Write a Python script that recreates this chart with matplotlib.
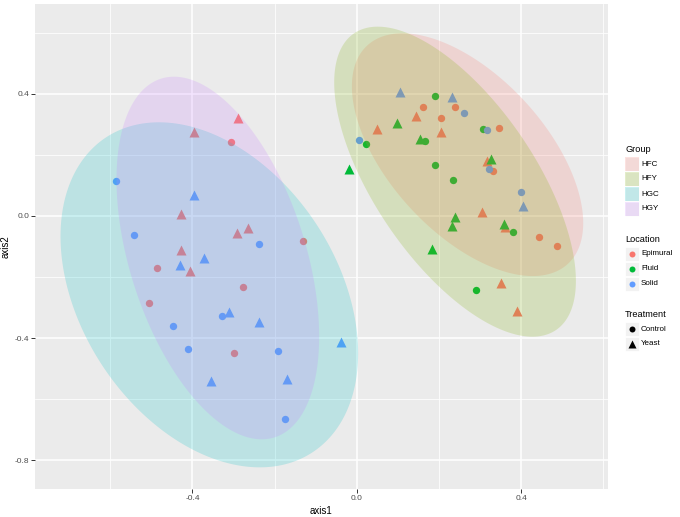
import numpy as np
import matplotlib
matplotlib.use("Agg")
import matplotlib.pyplot as plt
from matplotlib.patches import Rectangle, Polygon

plt.rcParams['font.family'] = ['Liberation Sans', 'DejaVu Sans']

# ---------------- data ----------------
loc_names = ["Epimural", "Fluid", "Solid"]
loc_colors = ["#F8766D", "#00BA38", "#619CFF"]
treat_names = ["Control", "Yeast"]

epi_x = [-0.290, -0.397, -0.306, -0.427, -0.265, -0.292, -0.132, -0.427, -0.406, -0.486,
         -0.277, -0.505, -0.300,
         0.161, 0.239, 0.145, 0.204, 0.050, 0.205, 0.345, 0.316, 0.332, 0.304, 0.361,
         0.442, 0.486, 0.351, 0.390]
epi_y = [0.322, 0.276, 0.244, 0.006, -0.038, -0.055, -0.081, -0.110, -0.180, -0.169,
         -0.232, -0.284, -0.449,
         0.356, 0.356, 0.329, 0.322, 0.286, 0.275, 0.289, 0.181, 0.149, 0.013, -0.035,
         -0.068, -0.097, -0.219, -0.313]
epi_t = ["Y", "Y", "C", "Y", "Y", "Y", "C", "Y", "Y", "C",
         "C", "C", "C",
         "C", "C", "Y", "C", "Y", "Y", "C", "Y", "C", "Y", "Y",
         "C", "C", "Y", "Y"]

flu_x = [0.191, 0.097, 0.306, 0.023, 0.153, 0.165, -0.019, 0.191, 0.326, 0.233,
         0.238, 0.232, 0.359, 0.380, 0.182, 0.291]
flu_y = [0.395, 0.306, 0.284, 0.236, 0.252, 0.245, 0.153, 0.167, 0.186, 0.117,
         -0.003, -0.033, -0.025, -0.054, -0.108, -0.244]
flu_t = ["C", "Y", "C", "C", "Y", "C", "Y", "C", "Y", "C",
         "Y", "Y", "Y", "C", "Y", "C"]

sol_x = [-0.586, -0.395, -0.543, -0.239, -0.372, -0.430, -0.328, -0.310, -0.448, -0.239,
         -0.038, -0.411, -0.191, -0.355, -0.170, -0.174,
         0.105, 0.232, 0.260, 0.316, 0.005, 0.322, 0.399, 0.405]
sol_y = [0.115, 0.068, -0.061, -0.093, -0.138, -0.161, -0.328, -0.314, -0.360, -0.349,
         -0.414, -0.437, -0.443, -0.542, -0.535, -0.666,
         0.407, 0.389, 0.337, 0.282, 0.248, 0.155, 0.079, 0.033]
sol_t = ["C", "Y", "C", "C", "Y", "Y", "C", "Y", "C", "Y",
         "Y", "C", "C", "Y", "Y", "C",
         "Y", "Y", "C", "C", "C", "C", "C", "Y"]

# ellipse (95%) parameters: centre, half-extent in x / y, correlation
group_names = ["HFC", "HFY", "HGC", "HGY"]
group_colors = ["#F8766D", "#7CAE00", "#00BFC4", "#C77CFF"]
ell_cx = [0.2693, 0.2389, -0.3589, -0.3382]
ell_cy = [0.2010, 0.1125, -0.2584, -0.1377]
ell_sx = [0.2814, 0.2940, 0.3620, 0.2465]
ell_sy = [0.3979, 0.5082, 0.5656, 0.5944]
ell_r = [-0.563, -0.640, -0.339, -0.433]

x_ticks = [-0.4, 0.0, 0.4]
y_ticks = [-0.8, -0.4, 0.0, 0.4]

# ---------------- figure ----------------
W, H = 680, 517
fig = plt.figure(figsize=(W / 100, H / 100), dpi=100)
fig.patch.set_facecolor("white")

L, R, T, B = 35, 608, 4, 489
ax = fig.add_axes([L / W, 1 - B / H, (R - L) / W, (B - T) / H])
ax.set_facecolor("#EBEBEB")
ax.set_xlim(-0.783, 0.611)
ax.set_ylim(-0.895, 0.695)

ax.set_xticks(x_ticks)
ax.set_yticks(y_ticks)
ax.set_xticklabels([f"{v:.1f}" for v in x_ticks])
ax.set_yticklabels([f"{v:.1f}" for v in y_ticks])
ax.set_xticks([-0.6, -0.2, 0.2, 0.6], minor=True)
ax.set_yticks([-0.6, -0.2, 0.2, 0.6], minor=True)
ax.grid(True, which="major", color="white", lw=1.1)
ax.grid(True, which="minor", color="white", lw=0.55)
ax.set_axisbelow(True)
for s in ax.spines.values():
    s.set_visible(False)
ax.tick_params(which="major", length=2.7, width=0.7, color="#333333",
               labelsize=6, labelcolor="#4D4D4D", pad=1.5)
ax.tick_params(which="minor", length=0)

ax.set_xlabel("axis1", fontsize=7, labelpad=3)
ax.set_ylabel("axis2", fontsize=7, labelpad=3)

markers = {"C": "o", "Y": "^"}
msize = {"C": 5.3, "Y": 6.6}
for xs, ys, ts, col in [(epi_x, epi_y, epi_t, loc_colors[0]),
                        (flu_x, flu_y, flu_t, loc_colors[1]),
                        (sol_x, sol_y, sol_t, loc_colors[2])]:
    for xv, yv, tv in zip(xs, ys, ts):
        ax.plot(xv, yv, marker=markers[tv], ms=msize[tv], color=col,
                mec="none", ls="none", zorder=3)

t = np.linspace(0, 2 * np.pi, 300)
for cx, cy, sx, sy, r, col in zip(ell_cx, ell_cy, ell_sx, ell_sy, ell_r, group_colors):
    S = np.array([[sx * sx, r * sx * sy], [r * sx * sy, sy * sy]])
    Lc = np.linalg.cholesky(S)
    pts = (Lc @ np.vstack([np.cos(t), np.sin(t)])).T + [cx, cy]
    ax.add_patch(Polygon(pts, closed=True, facecolor=col, alpha=0.2,
                         edgecolor="none", zorder=4))

# ---------------- legends (pixel overlay) ----------------
ov = fig.add_axes([0, 0, 1, 1])
ov.set_xlim(0, W)
ov.set_ylim(H, 0)
ov.axis("off")

kx, kw, kh = 625, 13.5, 14
lab_x = 641

def key_box(yc):
    ov.add_patch(Rectangle((kx, yc - kh / 2), kw, kh, facecolor="#F2F2F2",
                           edgecolor="white", lw=0.6))

# Group
ov.text(kx, 149, "Group", fontsize=6.6, va="center", ha="left", color="black")
for i, (g, c) in enumerate(zip(group_names, group_colors)):
    yc = 164 + i * 15
    key_box(yc)
    ov.add_patch(Rectangle((kx, yc - kh / 2), kw, kh, facecolor=c, alpha=0.2,
                           edgecolor="none"))
    ov.text(lab_x, yc, g, fontsize=5.8, va="center", ha="left")

# Location
ov.text(kx, 239, "Location", fontsize=6.6, va="center", ha="left")
for i, (n, c) in enumerate(zip(loc_names, loc_colors)):
    yc = 253.5 + i * 15
    key_box(yc)
    ov.plot(kx + kw / 2, yc, "o", ms=4.3, color=c, mec="none")
    ov.text(lab_x, yc, n, fontsize=5.8, va="center", ha="left")

# Treatment
ov.text(kx, 314.5, "Treatment", fontsize=6.6, va="center", ha="left")
for i, n in enumerate(treat_names):
    yc = 329.3 + i * 14.5
    key_box(yc)
    mk = "o" if i == 0 else "^"
    ov.plot(kx + kw / 2, yc, mk, ms=4.3 if i == 0 else 5.5, color="black", mec="none")
    ov.text(lab_x, yc, n, fontsize=5.8, va="center", ha="left")

fig.savefig("out.png", dpi=100)
